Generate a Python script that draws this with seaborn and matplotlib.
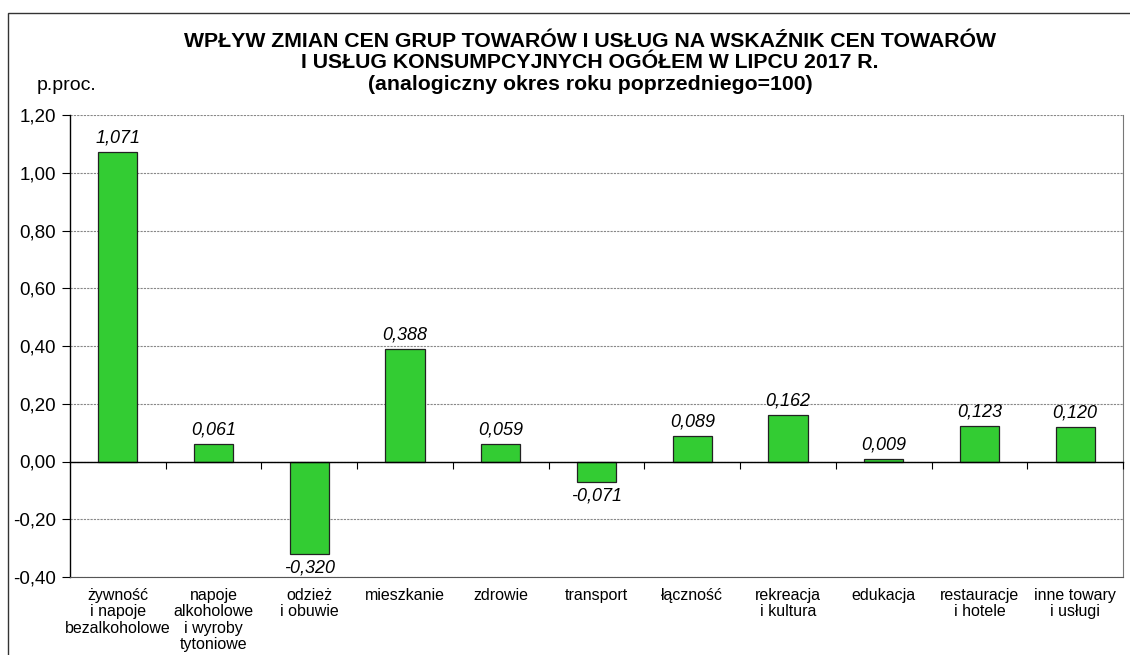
import numpy as np
import pandas as pd
import seaborn as sns
import matplotlib.pyplot as plt
from matplotlib.patches import Rectangle
from matplotlib.ticker import FuncFormatter

categories = [
    "żywność\ni napoje\nbezalkoholowe",
    "napoje\nalkoholowe\ni wyroby\ntytoniowe",
    "odzież\ni obuwie",
    "mieszkanie",
    "zdrowie",
    "transport",
    "łączność",
    "rekreacja\ni kultura",
    "edukacja",
    "restauracje\ni hotele",
    "inne towary\ni usługi",
]
values = [1.071, 0.061, -0.320, 0.388, 0.059, -0.071, 0.089, 0.162, 0.009, 0.123, 0.120]
yticks = [-0.40, -0.20, 0.00, 0.20, 0.40, 0.60, 0.80, 1.00, 1.20]

sns.set_style("white")
plt.rcParams['font.family'] = ['Liberation Sans', 'DejaVu Sans']
plt.rcParams['text.color'] = 'black'

df = pd.DataFrame({"kat": categories, "val": values})

fig = plt.figure(figsize=(11.3, 6.55), dpi=100)
ax = fig.add_axes([70 / 1130, 1 - 577 / 655, 1053 / 1130, 462 / 655])

sns.barplot(data=df, x="kat", y="val", order=categories, color="#33CC33",
            saturation=1, width=0.41, edgecolor="#222222", linewidth=0.9, ax=ax)

ax.set_ylim(-0.40, 1.20)
ax.set_xlim(-0.5, len(categories) - 0.5)
ax.set_yticks(yticks)
ax.yaxis.set_major_formatter(FuncFormatter(lambda v, p: f"{v:.2f}".replace(".", ",")))
ax.grid(axis="y", color="#888888", linestyle=(0, (2, 1)), linewidth=0.8)
ax.set_axisbelow(True)
ax.set_xlabel("")
ax.set_ylabel("")

ax.spines["top"].set_visible(False)
ax.spines["left"].set_color("black")
ax.spines["left"].set_linewidth(1.0)
ax.spines["right"].set_color("#777777")
ax.spines["bottom"].set_color("#555555")

ax.tick_params(axis="y", left=True, length=6, width=0.8, labelsize=13.5, pad=4,
               color="black", labelcolor="black")
ax.tick_params(axis="x", bottom=False, length=0, labelsize=11.5, pad=8, labelcolor="black")
for t in ax.get_xticklabels():
    t.set_linespacing(1.1)

labels = [f"{v:.3f}".replace(".", ",") for v in values]
ax.bar_label(ax.containers[0], labels=labels, padding=4, fontsize=13, fontstyle="italic",
             color="black")

# zero line with tick marks between the groups
ax2 = ax.twiny()
ax2.set_xlim(ax.get_xlim())
ax2.spines["bottom"].set_position(("data", 0))
for s in ["top", "left", "right"]:
    ax2.spines[s].set_visible(False)
ax2.spines["bottom"].set_color("black")
ax2.spines["bottom"].set_linewidth(1.0)
ax2.xaxis.set_ticks_position("bottom")
ax2.set_xticks(np.arange(len(categories)) + 0.5)
ax2.set_xticklabels([])
ax2.tick_params(axis="x", length=5, width=0.8, direction="out", color="black")

fig.text(590 / 1130, 1 - 63 / 655,
         "WPŁYW ZMIAN CEN GRUP TOWARÓW I USŁUG NA WSKAŹNIK CEN TOWARÓW\n"
         "I USŁUG KONSUMPCYJNYCH OGÓŁEM W LIPCU 2017 R.\n"
         "(analogiczny okres roku poprzedniego=100)",
         ha="center", va="center", fontsize=15.3, fontweight="bold", linespacing=1.17)
fig.text(37 / 1130, 1 - 85 / 655, "p.proc.", ha="left", va="center", fontsize=14)

fig.patches.append(Rectangle((8 / 1130, -0.1), 1.2, 1 - 13 / 655 + 0.1,
                             transform=fig.transFigure, fill=False,
                             edgecolor="#333333", linewidth=1.0))

fig.savefig("out.png", dpi=100)
